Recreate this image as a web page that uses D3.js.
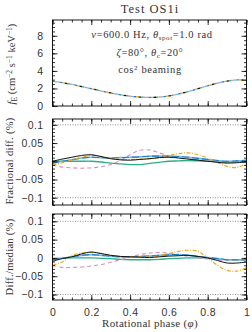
<!DOCTYPE html>
<html>
<head>
<meta charset="utf-8">
<script src="https://cdn.jsdelivr.net/npm/d3@7"></script>
<style>
  body { margin: 0; background: #fff; }
  svg { display: block; font-family: "Liberation Serif", "DejaVu Serif", serif; }
  .axis path { display: none; }
  .axis line { stroke: #000; stroke-width: 0.8; }
  .axis text { font-size: 10.5px; fill: #333; letter-spacing: 0.4px; }
</style>
</head>
<body>
<svg width="252" height="332"></svg>
<script>
// phase grid shared by all series
var phase = [0, 0.05, 0.1, 0.15, 0.2, 0.25, 0.3, 0.35, 0.4, 0.45, 0.5, 0.55, 0.6, 0.65, 0.7, 0.75, 0.8, 0.85, 0.9, 0.95, 1];

// top panel: flux (all codes overlap)
var flux = [2.82, 2.66, 2.46, 2.22, 1.97, 1.72, 1.49, 1.28, 1.12, 1.02, 0.98, 1.02, 1.15, 1.37, 1.65, 1.97, 2.30, 2.60, 2.84, 2.97, 2.93];

// middle panel: fractional diff (%)
var fracBlack  = [0.000, 0.006, 0.011, 0.016, 0.018, 0.013, 0.007, 0.004, 0.003, 0.005, 0.007, 0.010, 0.011, 0.009, 0.006, 0.003, 0.000, -0.003, -0.005, -0.004, -0.002];
var fracOrange = [-0.010, -0.004, 0.004, 0.011, 0.016, 0.013, 0.008, 0.005, 0.005, 0.006, 0.007, 0.010, 0.016, 0.021, 0.023, 0.018, 0.009, -0.003, -0.014, -0.017, -0.006];
var fracPink   = [-0.010, -0.016, -0.018, -0.019, -0.018, -0.015, -0.009, 0.002, 0.018, 0.030, 0.031, 0.023, 0.015, 0.009, 0.006, 0.005, 0.002, -0.002, -0.002, -0.002, -0.001];
var fracBlue   = [-0.005, 0.000, 0.004, 0.009, 0.011, 0.010, 0.009, 0.010, 0.011, 0.012, 0.014, 0.014, 0.014, 0.013, 0.011, 0.008, 0.005, 0.002, 0.000, 0.001, 0.003];
var fracGreen  = [0.000, 0.000, 0.000, 0.000, 0.000, -0.002, -0.005, -0.007, -0.009, -0.009, -0.006, -0.003, 0.000, 0.001, 0.002, 0.001, 0.000, -0.001, -0.002, -0.001, 0.000];

// bottom panel: diff / median (%)
var medBlack  = [-0.009, -0.002, 0.003, 0.011, 0.016, 0.012, 0.007, 0.004, 0.003, 0.002, 0.001, 0.003, 0.005, 0.006, 0.007, 0.004, 0.000, -0.007, -0.014, -0.014, -0.011];
var medOrange = [-0.020, -0.011, 0.007, 0.013, 0.015, 0.012, 0.007, 0.004, 0.003, 0.003, 0.003, 0.006, 0.012, 0.018, 0.021, 0.018, 0.000, -0.020, -0.034, -0.036, -0.027];
var medPink   = [-0.020, -0.026, -0.026, -0.025, -0.022, -0.018, -0.012, -0.005, 0.002, 0.009, 0.013, 0.015, 0.013, 0.009, 0.004, 0.000, -0.003, -0.006, -0.006, -0.006, -0.006];
var medBlue   = [-0.005, -0.001, 0.003, 0.007, 0.009, 0.007, 0.005, 0.003, 0.003, 0.004, 0.005, 0.007, 0.009, 0.009, 0.007, 0.004, 0.001, -0.002, -0.005, -0.005, -0.005];
var medGreen  = [-0.002, -0.001, 0.000, 0.000, 0.000, -0.001, -0.002, -0.004, -0.005, -0.005, -0.005, -0.004, -0.002, -0.001, 0.000, 0.000, 0.000, -0.002, -0.005, -0.005, -0.005];

var xTicks = [0, 0.2, 0.4, 0.6, 0.8, 1];
var xTickLabels = ["0", "0.2", "0.4", "0.6", "0.8", "1"];

var styles = [
    {color: "#2BAF86", dash: null, w: 1.3},
    {color: "#D98CC0", dash: "4,3", w: 1.1},
    {color: "#6FBCE8", dash: null, w: 1.6},
    {color: "#1F7FBF", dash: "7,3", w: 1.1},
    {color: "#EBAA1E", dash: "4,1.5,1,1.5", w: 1.2},
    {color: "#111111", dash: null, w: 1.0}
];

var svg = d3.select("svg");

var x = d3.scaleLinear().domain([0, 1]).range([52.5, 246.5]);

function frame(y0, y1) {
    svg.append("rect")
        .attr("x", x(0)).attr("y", y0)
        .attr("width", x(1) - x(0)).attr("height", y1 - y0)
        .attr("fill", "none").attr("stroke", "#000").attr("stroke-width", 0.9);
}

function xAxes(y, showLabels) {
    var minor = d3.range(0, 1.0001, 0.05);
    var top = svg.append("g").attr("class", "axis").attr("transform", "translate(0," + y.range()[1] + ")");
    top.call(d3.axisTop(x).tickValues(minor).tickSize(-2.5).tickFormat(""));
    top.append("g").call(d3.axisTop(x).tickValues(xTicks).tickSize(-5).tickFormat(""));
    var bot = svg.append("g").attr("class", "axis").attr("transform", "translate(0," + y.range()[0] + ")");
    bot.call(d3.axisBottom(x).tickValues(minor).tickSize(-2.5).tickFormat(""));
    bot.append("g").call(d3.axisBottom(x).tickValues(xTicks).tickSize(-5)
        .tickPadding(9).tickFormat(function(d, i) { return showLabels ? xTickLabels[i] : ""; }));
}

function yAxes(y, major, minor, fmt) {
    var l = svg.append("g").attr("class", "axis").attr("transform", "translate(" + x(0) + ",0)");
    l.call(d3.axisLeft(y).tickValues(minor).tickSize(-2.5).tickFormat(""));
    l.append("g").call(d3.axisLeft(y).tickValues(major).tickSize(-5).tickPadding(9).tickFormat(fmt));
    var r = svg.append("g").attr("class", "axis").attr("transform", "translate(" + x(1) + ",0)");
    r.call(d3.axisRight(y).tickValues(minor).tickSize(-2.5).tickFormat(""));
    r.append("g").call(d3.axisRight(y).tickValues(major).tickSize(-5).tickFormat(""));
}

function drawSeries(y, seriesList, interleave) {
    var line = d3.line()
        .x(function(d) { return x(d[0]); })
        .y(function(d) { return y(d[1]); })
        .curve(d3.curveCatmullRom);
    seriesList.forEach(function(vals, i) {
        var s = styles[i];
        var p = svg.append("path")
            .datum(phase.map(function(ph, j) { return [ph, vals[j]]; }))
            .attr("d", line)
            .attr("fill", "none")
            .attr("stroke", s.color)
            .attr("stroke-width", interleave ? 1.3 : s.w);
        if (interleave) {
            // every code overlaps here: cut each line into short pieces so all colours show
            p.attr("stroke-dasharray", "2.5," + (2.5 * (seriesList.length - 1)))
             .attr("stroke-dashoffset", -2.5 * i);
        } else {
            p.attr("stroke-dasharray", s.dash);
        }
    });
}

function dotted(y) {
    [0.1, -0.1].forEach(function(v) {
        svg.append("line")
            .attr("x1", x(0)).attr("x2", x(1))
            .attr("y1", y(v)).attr("y2", y(v))
            .attr("stroke", "#777").attr("stroke-width", 0.8)
            .attr("stroke-dasharray", "1,1.5");
    });
}

function fmtPct(d) {
    if (d === 0) return "0";
    return (d < 0 ? "\u2212" : "") + Math.abs(d);
}

// top panel
var y1 = d3.scaleLinear().domain([0, 9.8]).range([106, 20]);
drawSeries(y1, [flux, flux, flux, flux, flux, flux], true);
frame(20, 106);
xAxes(y1, false);
yAxes(y1, [0, 2, 4, 6, 8], d3.range(0, 9.8, 0.5), function(d) { return d; });

// middle panel
var y2 = d3.scaleLinear().domain([-0.12, 0.116]).range([205, 119]);
var pctMajor = [-0.1, -0.05, 0, 0.05, 0.1];
var pctMinor = d3.range(-0.12, 0.1201, 0.01).map(function(v) { return Math.round(v * 100) / 100; })
    .filter(function(v) { return v >= -0.12 && v <= 0.116; });
dotted(y2);
drawSeries(y2, [fracGreen, fracPink, fracBlue, fracBlue, fracOrange, fracBlack], false);
frame(119, 205);
xAxes(y2, false);
yAxes(y2, pctMajor, pctMinor, fmtPct);

// bottom panel
var y3 = d3.scaleLinear().domain([-0.115, 0.12]).range([300, 214]);
var pctMinor3 = d3.range(-0.11, 0.1201, 0.01).map(function(v) { return Math.round(v * 100) / 100; });
dotted(y3);
drawSeries(y3, [medGreen, medPink, medBlue, medBlue, medOrange, medBlack], false);
frame(214, 300);
xAxes(y3, true);
yAxes(y3, pctMajor, pctMinor3, fmtPct);

// titles and labels
svg.append("text").attr("x", 150).attr("y", 13).attr("text-anchor", "middle")
    .attr("font-size", 12.5).attr("letter-spacing", 1).attr("fill", "#333").text("Test OS1i");

var ann = svg.append("g").attr("font-size", 10.5).attr("letter-spacing", 0.6)
    .attr("fill", "#333").attr("text-anchor", "middle");
var t1 = ann.append("text").attr("x", 152).attr("y", 38);
t1.append("tspan").attr("font-style", "italic").text("\u03bd");
t1.append("tspan").text("=600.0 Hz, ");
t1.append("tspan").attr("font-style", "italic").text("\u03b8");
t1.append("tspan").attr("font-size", 7).attr("dy", 2).text("spot");
t1.append("tspan").attr("dy", -2).text("=1.0 rad");
var t2 = ann.append("text").attr("x", 150).attr("y", 56);
t2.append("tspan").attr("font-style", "italic").text("\u03b6");
t2.append("tspan").text("=80\u00b0, ");
t2.append("tspan").attr("font-style", "italic").text("\u03b8");
t2.append("tspan").attr("font-size", 7).attr("dy", 2).text("c");
t2.append("tspan").attr("dy", -2).text("=20\u00b0");
var t3 = ann.append("text").attr("x", 150).attr("y", 73);
t3.append("tspan").text("cos");
t3.append("tspan").attr("font-size", 7).attr("dy", -3.5).text("2");
t3.append("tspan").attr("dy", 3.5).text(" beaming");

var yl = svg.append("g").attr("font-size", 10.5)
    .attr("fill", "#333").attr("text-anchor", "middle");
var l1 = yl.append("text").attr("transform", "translate(15,64) rotate(-90)");
l1.append("tspan").attr("font-style", "italic").text("f");
l1.append("tspan").attr("font-size", 7.5).attr("dy", 2).text("E");
l1.append("tspan").attr("dy", -2).text(" (cm");
l1.append("tspan").attr("font-size", 7.5).attr("dy", -3.5).text("\u22122");
l1.append("tspan").attr("dy", 3.5).text(" s");
l1.append("tspan").attr("font-size", 7.5).attr("dy", -3.5).text("\u22121");
l1.append("tspan").attr("dy", 3.5).text(" keV");
l1.append("tspan").attr("font-size", 7.5).attr("dy", -3.5).text("\u22121");
l1.append("tspan").attr("dy", 3.5).text(")");

yl.append("text").attr("transform", "translate(13,161) rotate(-90)").attr("letter-spacing", 0.3)
    .text("Fractional diff. (%)");
yl.append("text").attr("transform", "translate(13,257) rotate(-90)").attr("letter-spacing", 0.3)
    .text("Diff./median (%)");

var xl = svg.append("text").attr("x", 150).attr("y", 327).attr("text-anchor", "middle")
    .attr("font-size", 11).attr("letter-spacing", 0.3).attr("fill", "#333");
xl.append("tspan").text("Rotational phase (");
xl.append("tspan").attr("font-style", "italic").text("\u03c6");
xl.append("tspan").text(")");
</script>
</body>
</html>
